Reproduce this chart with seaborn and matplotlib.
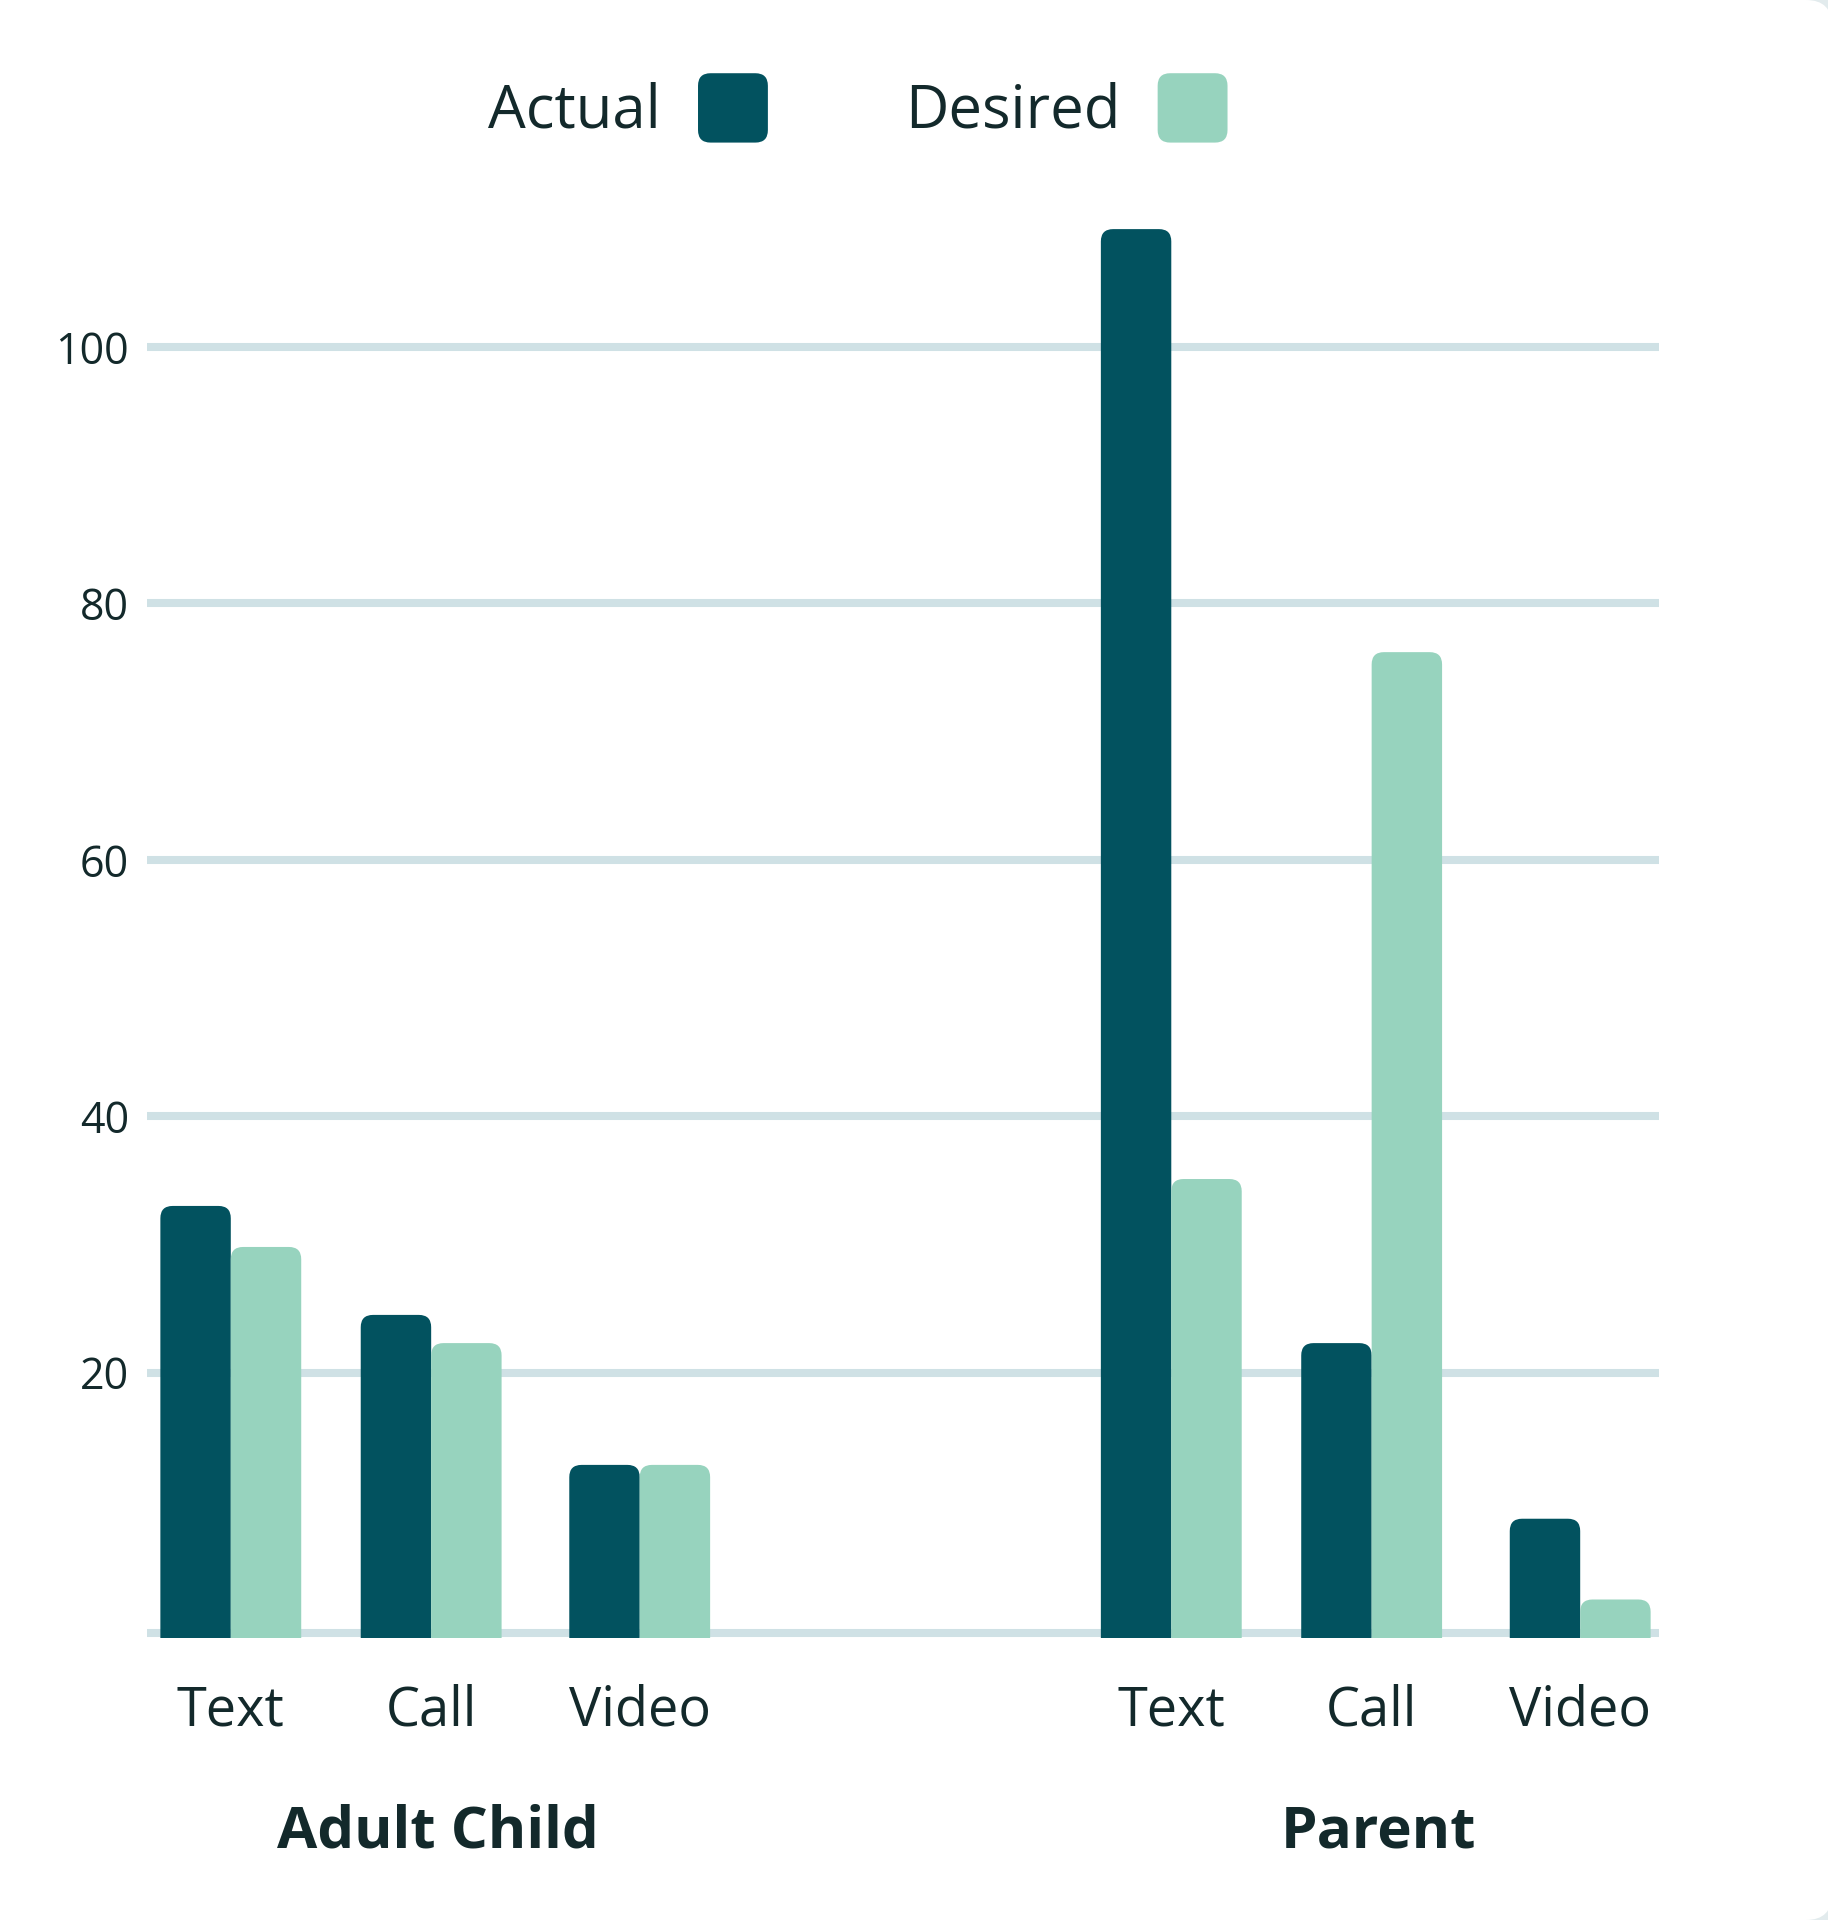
import matplotlib
matplotlib.use("Agg")
import matplotlib.pyplot as plt
from matplotlib.patches import FancyBboxPatch, Patch
from matplotlib.legend_handler import HandlerPatch
from matplotlib.transforms import blended_transform_factory
import seaborn as sns
import pandas as pd

# data
groups = ["Adult Child", "Parent"]
modes = ["Text", "Call", "Video"]
actual = [33.0, 24.5, 12.8, 109.2, 22.3, 8.6]
desired = [29.8, 22.3, 12.8, 35.1, 76.2, 2.3]
yticks = [20, 40, 60, 80, 100]

DARK = "#02525f"
LIGHT = "#97d3be"
GRID = "#cfe1e5"
INK = "#13292b"

# layout: where each group / mode sits on the x axis
group_start = [0.0, 4.6]
mode_step = [0.0, 0.98, 2.0]

rows = []
for gi, g in enumerate(groups):
    for mi, m in enumerate(modes):
        k = gi * 3 + mi
        pos = group_start[gi] + mode_step[mi]
        rows.append(dict(group=g, mode=m, series="Actual", value=actual[k], pos=pos))
        rows.append(dict(group=g, mode=m, series="Desired", value=desired[k], pos=pos))
df = pd.DataFrame(rows)

plt.rcParams["font.family"] = ["Open Sans", "DejaVu Sans"]

fig = plt.figure(figsize=(18.28, 19.2), dpi=100)
fig.patch.set_facecolor("#e2ebed")

# white card with rounded corners
bg = fig.add_axes([0, 0, 1, 1], zorder=-10)
bg.set_xlim(0, 1828)
bg.set_ylim(0, 1920)
bg.axis("off")
bg.add_patch(FancyBboxPatch((-60, 0), 1892, 1920,
                            boxstyle="round,pad=0,rounding_size=26",
                            fc="white", ec="none"))

ax = fig.add_axes([0.0804, 0.1469, 0.8271, 0.7725])
ax.set_facecolor("none")

sns.barplot(data=df, x="pos", y="value", hue="series",
            hue_order=["Actual", "Desired"], palette=[DARK, LIGHT],
            native_scale=True, width=0.703, gap=0, saturation=1,
            errorbar=None, legend=False, ax=ax)

# swap plain bars for ones with rounded tops
for p in list(ax.patches):
    x, w, h = p.get_x(), p.get_width(), p.get_height()
    fc = p.get_facecolor()
    p.remove()
    ax.add_patch(FancyBboxPatch((x, -3), w, h + 3,
                                boxstyle="round,pad=0,rounding_size=0.06",
                                mutation_aspect=16, fc=fc, ec="none", zorder=3))

for y in yticks:
    ax.axhline(y, color=GRID, lw=5.8, zorder=1)
ax.axhline(-0.35, color=GRID, lw=5.8, zorder=1)

ax.set_xlim(-0.41, 6.985)
ax.set_ylim(-0.7, 115)

positions = sorted(df["pos"].unique())
ax.set_xticks(positions)
ax.set_xticklabels(modes * len(groups), fontsize=39, color=INK)
ax.set_yticks(yticks)
ax.set_yticklabels([str(v) for v in yticks], fontsize=31, color=INK)
ax.tick_params(axis="x", length=0, pad=32.5)
ax.tick_params(axis="y", length=0, pad=13)
ax.set_xlabel("")
ax.set_ylabel("")
for s in ax.spines.values():
    s.set_visible(False)

trans = blended_transform_factory(ax.transData, fig.transFigure)
for gi, g in enumerate(groups):
    center = group_start[gi] + sum(mode_step) / len(mode_step) + 0.02
    ax.text(center, 0.0454, g, transform=trans, ha="center", va="center",
            fontsize=42, fontweight="bold", color=INK)


def rounded_handle(legend, orig_handle, xdescent, ydescent, width, height, fontsize):
    return FancyBboxPatch((-xdescent, -ydescent), width, height,
                          boxstyle=f"round,pad=0,rounding_size={height * 0.18}")


handles = [Patch(fc=DARK, label="Actual"), Patch(fc=LIGHT, label="Desired")]
fig.legend(handles=handles, loc="center", bbox_to_anchor=(0.4693, 0.9438), ncol=2,
           frameon=False, markerfirst=False, fontsize=43, labelcolor=INK,
           handlelength=1.17, handleheight=1.41, handletextpad=0.62,
           columnspacing=2.3, borderpad=0,
           handler_map={Patch: HandlerPatch(patch_func=rounded_handle)})

fig.savefig("out.png", dpi=100, facecolor=fig.get_facecolor())
